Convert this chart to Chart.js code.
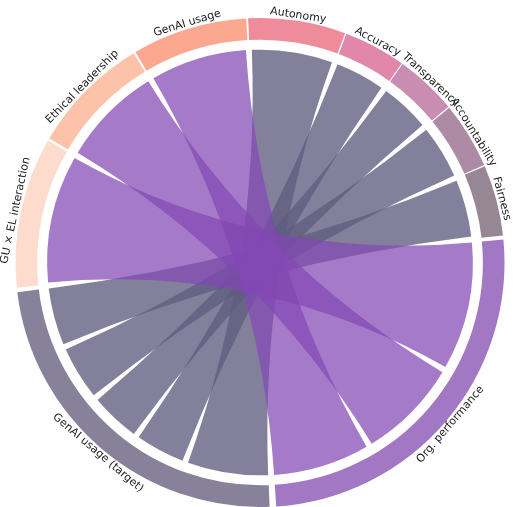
<!DOCTYPE html>
<html><head><meta charset="utf-8">
<script src="https://cdn.jsdelivr.net/npm/chart.js@4"></script>
<style>body{margin:0;background:#fff}#wrap{width:520px;height:507px}</style>
</head><body><div id="wrap"><canvas id="c"></canvas></div>
<script>
// nodes around the circle, clockwise from the top
const nodes = ["Autonomy", "Accuracy", "Transparency", "Accountability", "Fairness",
  "Org. performance", "GenAI usage (target)", "GU × EL interaction", "Ethical leadership", "GenAI usage"];
const nodeValues = [22, 14, 14, 15, 16, 87, 81, 34, 27, 26];
const nodeColors = ["#ef8c9c", "#e087aa", "#c98db2", "#ad8ba5", "#978795",
  "#a277c3", "#878199", "#fddccd", "#fdc2aa", "#fca891"];

// flows: source -> target
const flowSource = [0, 1, 2, 3, 4, 7, 8, 9];
const flowTarget = [6, 6, 6, 6, 6, 5, 5, 5];
const flowValue  = [22, 14, 14, 15, 16, 34, 27, 26];
const ribbonColor = {5: "rgba(130,72,180,0.72)", 6: "rgba(96,92,128,0.78)"};

const chordPlugin = {
  id: "chord",
  afterDatasetsDraw(chart) {
    const ctx = chart.ctx;
    const arcs = chart.getDatasetMeta(0).data;
    const cx = arcs[0].x, cy = arcs[0].y;
    const R = arcs[0].outerRadius, r = arcs[0].innerRadius - 6;
    const pad = 0.014;
    // target sub-ranges, filled from the start in source order
    const used = {};
    const tRange = [];
    flowSource.forEach((s, i) => {
      const t = flowTarget[i], a = arcs[t];
      const k = (a.endAngle - a.startAngle) / nodeValues[t];
      const st = a.startAngle + (used[t] || 0) * k;
      tRange[i] = [st + pad, st + flowValue[i] * k - pad];
      used[t] = (used[t] || 0) + flowValue[i];
    });
    ctx.save();
    flowSource.forEach((s, i) => {
      const a = arcs[s];
      const a0 = a.startAngle + pad, a1 = a.endAngle - pad;
      const [b0, b1] = tRange[i];
      ctx.beginPath();
      ctx.arc(cx, cy, r, a0, a1);
      ctx.quadraticCurveTo(cx, cy, cx + r * Math.cos(b0), cy + r * Math.sin(b0));
      ctx.arc(cx, cy, r, b0, b1);
      ctx.quadraticCurveTo(cx, cy, cx + r * Math.cos(a0), cy + r * Math.sin(a0));
      ctx.closePath();
      ctx.fillStyle = ribbonColor[flowTarget[i]];
      ctx.fill();
    });
    // labels
    ctx.font = "11px 'DejaVu Sans'";
    ctx.fillStyle = "#222";
    ctx.textAlign = "center";
    arcs.forEach((a, i) => {
      const m = (a.startAngle + a.endAngle) / 2;
      const x = cx + (R + 4) * Math.cos(m), y = cy + (R + 4) * Math.sin(m);
      ctx.save();
      ctx.translate(x, y);
      if (Math.sin(m) < 0.05) {
        ctx.rotate(m + Math.PI / 2);
        ctx.textBaseline = "bottom";
      } else {
        ctx.rotate(m - Math.PI / 2);
        ctx.textBaseline = "top";
      }
      ctx.fillText(nodes[i], 0, 0);
      ctx.restore();
    });
    ctx.restore();
  }
};

new Chart(document.getElementById("c"), {
  type: "doughnut",
  data: {
    labels: nodes,
    datasets: [{ data: nodeValues, backgroundColor: nodeColors, borderWidth: 0, spacing: 8 }]
  },
  options: {
    responsive: true,
    maintainAspectRatio: false,
    animation: false,
    rotation: -3,
    cutout: "91%",
    layout: { padding: { top: 18, bottom: 0 } },
    plugins: { legend: { display: false }, tooltip: { enabled: false } }
  },
  plugins: [chordPlugin]
});
</script>
</body></html>
